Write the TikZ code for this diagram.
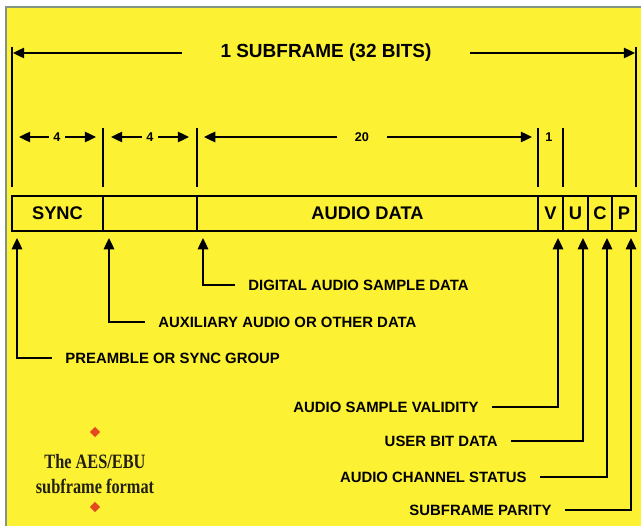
\documentclass[tikz,border=0pt]{standalone}
\usepackage{fontspec}
\setmainfont{Liberation Sans}
\newfontfamily\captionfont[FakeStretch=0.8]{Liberation Serif}
\usetikzlibrary{arrows.meta,positioning,shapes.geometric}
\definecolor{paper}{RGB}{253,241,52}
\definecolor{rim}{RGB}{130,148,130}
\definecolor{ink}{RGB}{34,32,18}
\definecolor{dot}{RGB}{228,72,30}
\tikzset{
	framestyle/.style={
		x=0.025cm, y=-0.025cm,
		>={Triangle[length=8pt,width=7.5pt]},
		line width=1pt,
		font=\bfseries}}

\begin{document}
\begin{tikzpicture}[framestyle,
	cell/.style={draw, rectangle, outer sep=0pt, inner sep=0pt,
		minimum height=35*0.025cm, font=\bfseries\fontsize{13}{15}\selectfont},
	note/.style={inner xsep=9pt, inner ysep=0pt, font=\bfseries\fontsize{10.6}{12}\selectfont},
	bits/.style={inner xsep=3pt, font=\bfseries\fontsize{9}{10}\selectfont},
	dotmark/.style={diamond, fill=dot, inner sep=0pt, minimum size=11*0.025cm},
	]
	\useasboundingbox (0,0) rectangle (641,526);
	\fill[white] (0,0) rectangle (641,526);
	\fill[paper] (7,8) rectangle (641,526);
	\draw[rim, line width=1.2pt] (6,526) |- (641,7);
	
	% the 32 bit cells
	\node[cell, minimum width=91*0.025cm, anchor=north west] (sync) at (12,196) {SYNC};
	\node[cell, minimum width=94*0.025cm, right=0pt of sync] (aux) {};
	\node[cell, minimum width=341*0.025cm, right=0pt of aux] (audio) {AUDIO DATA};
	\node[cell, minimum width=25*0.025cm, right=0pt of audio] (v) {V};
	\node[cell, minimum width=25*0.025cm, right=0pt of v] (u) {U};
	\node[cell, minimum width=24*0.025cm, right=0pt of u] (c) {C};
	\node[cell, minimum width=24*0.025cm, right=0pt of c] (p) {P};
	
	\draw (sync.north west) ++(0,-9) -- ++(0,-140);
	\draw (aux.north west) ++(0,-9) -- ++(0,-59);
	\draw (audio.north west) ++(0,-9) -- ++(0,-59);
	\draw (v.north west) ++(0,-9) -- ++(0,-59);
	\draw (u.north west) ++(0,-9) -- ++(0,-59);
	\draw (p.north east) ++(0,-9) -- ++(0,-140);
	
	% whole subframe
	\node[inner xsep=27pt, font=\bfseries\fontsize{13.5}{16}\selectfont] (title) at (326,53) {1 SUBFRAME (32 BITS)};
	\coordinate (tl) at (13,53);
	\coordinate (tr) at (635,53);
	\draw[->] (title) -- (tl);
	\draw[->] (title) -- (tr);
	
	% bit counts
	\node[bits] (n1) at (57,137) {4};
	\node[bits] (n2) at (150,137) {4};
	\node[bits, inner xsep=12pt] (n3) at (362,137) {20};
	\node[bits] (n4) at (549,137) {1};
	\coordinate (a1) at (19,137);
	\coordinate (a2) at (96,137);
	\coordinate (a3) at (111,137);
	\coordinate (a4) at (189,137);
	\coordinate (a5) at (204,137);
	\coordinate (a6) at (532,137);
	\draw[->] (n1) -- (a1);
	\draw[->] (n1) -- (a2);
	\draw[->] (n2) -- (a3);
	\draw[->] (n2) -- (a4);
	\draw[->] (n3) -- (a5);
	\draw[->] (n3) -- (a6);
	
	% left call-outs
	\node[note, anchor=west] (digital) at (235,285) {DIGITAL AUDIO SAMPLE DATA};
	\node[note, anchor=west] (auxnote) at (145,322) {AUXILIARY AUDIO OR OTHER DATA};
	\node[note, anchor=west] (preamble) at (52,358) {PREAMBLE OR SYNC GROUP};
	\draw[->] (digital.west) -| ([shift={(6,7)}]audio.south west);
	\draw[->] (auxnote.west) -| ([shift={(6,7)}]aux.south west);
	\draw[->] (preamble.west) -| ([shift={(5,7)}]sync.south west);
	
	% right call-outs
	\node[note, anchor=east] (validity) at (492,407) {AUDIO SAMPLE VALIDITY};
	\node[note, anchor=east] (userbit) at (511,441) {USER BIT DATA};
	\node[note, anchor=east] (status) at (540,477) {AUDIO CHANNEL STATUS};
	\node[note, anchor=east] (parity) at (565,510) {SUBFRAME PARITY};
	\draw[->] (validity.east) -| ([shift={(-5,7)}]v.south east);
	\draw[->] (userbit.east) -| ([shift={(-5,7)}]u.south east);
	\draw[->] (status.east) -| ([shift={(-5,7)}]c.south east);
	\draw[->] (parity.east) -| ([shift={(-5,7)}]p.south east);
	
	% caption
	\node[dotmark] (dtop) at (95,432) {};
	\node[align=center, text=ink, inner sep=0pt,
		font=\captionfont\bfseries\fontsize{14.5}{17.7}\selectfont] (caption) at (95,474) {The AES/EBU\\subframe format};
	\node[dotmark] (dbot) at (95,507) {};
\end{tikzpicture}
\end{document}
